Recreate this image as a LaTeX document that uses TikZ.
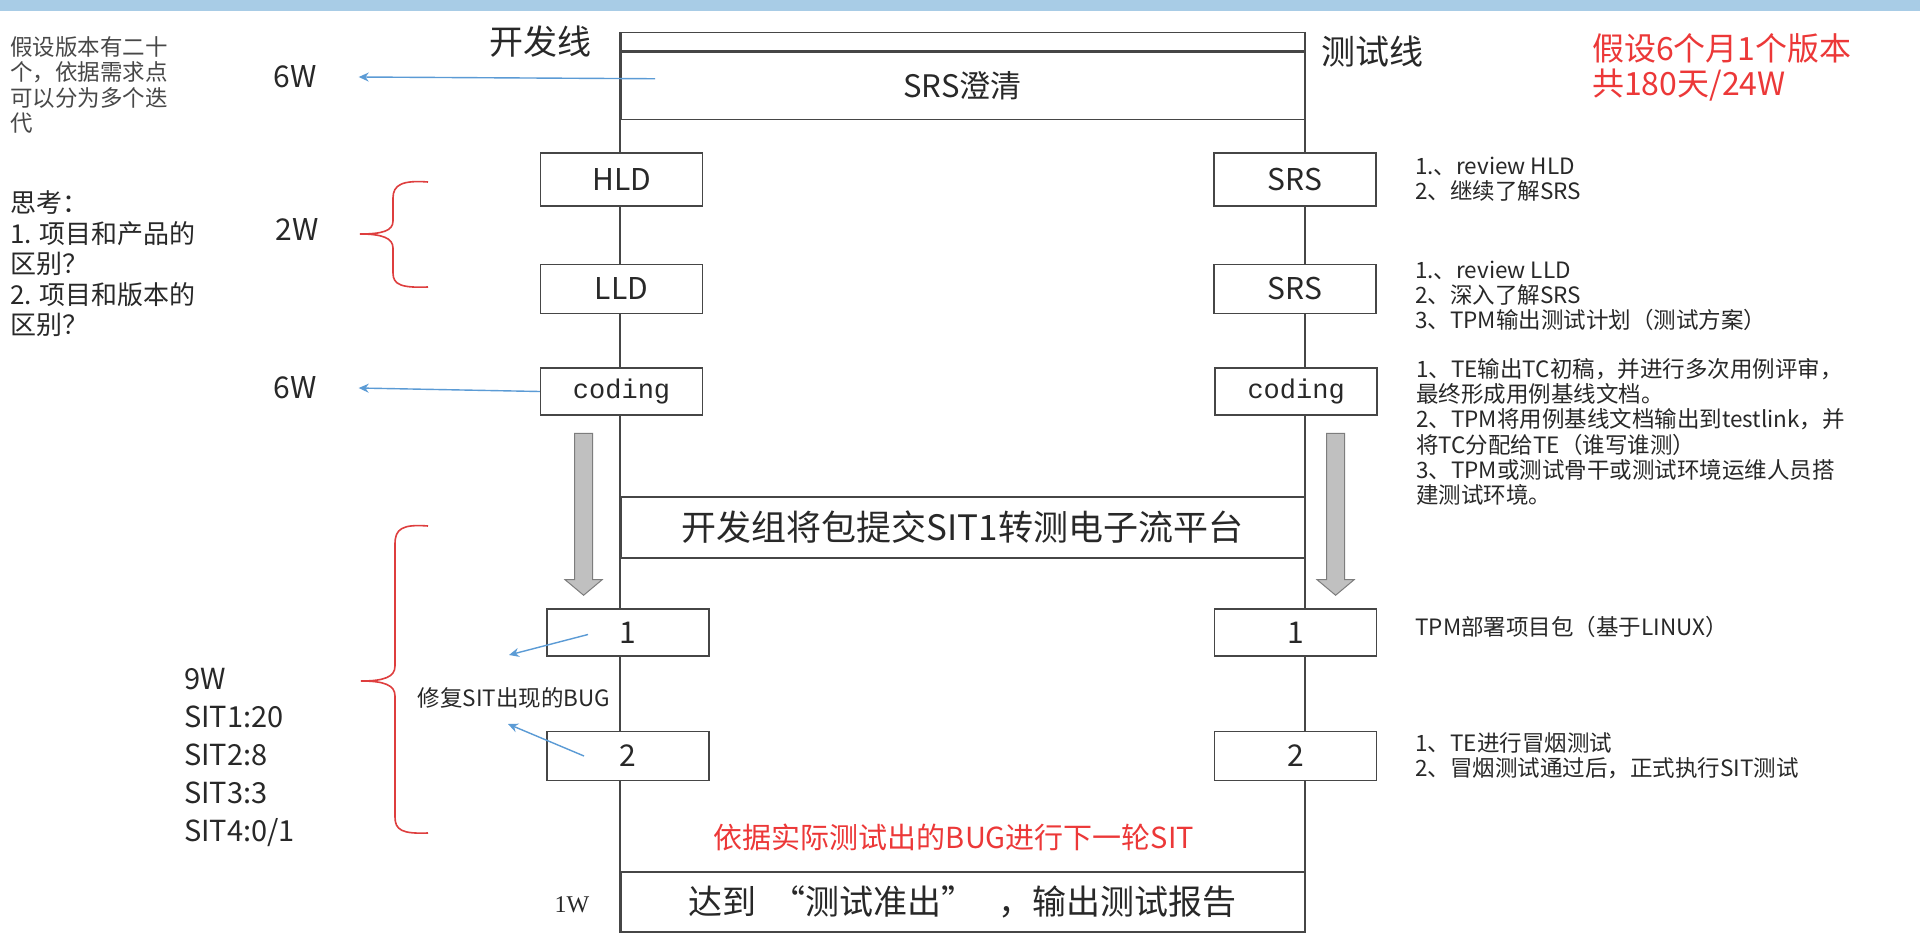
\documentclass[tikz,border=0pt]{standalone}
\usepackage{fontspec}
\setmainfont{Noto Sans CJK SC}
\newfontfamily\monoFont{Liberation Mono}
\newfontfamily\serifFont{Liberation Serif}
\usepackage{tikz}
\usetikzlibrary{shapes.arrows, positioning, calc, arrows.meta}
\definecolor{colorBar}{RGB}{168, 204, 230}
\definecolor{colorLine}{RGB}{70, 70, 70}
\definecolor{colorText}{RGB}{40, 40, 40}
\definecolor{colorNote}{RGB}{91, 155, 213}
\definecolor{colorBrace}{RGB}{222, 62, 62}
\definecolor{colorRed}{RGB}{236, 56, 56}
\definecolor{colorFlowFill}{RGB}{192, 192, 192}
\definecolor{colorFlowDraw}{RGB}{125, 125, 125}
\tikzstyle{band} = [rectangle, draw=colorLine, line width=1.5pt, fill=white, minimum width=683.6pt, inner sep=0pt, text=colorText, font=\fontsize{31}{36}\selectfont]
\tikzstyle{stage} = [rectangle, draw=colorLine, line width=1.5pt, fill=white, minimum width=162pt, minimum height=49pt, inner sep=0pt, text=colorText, font=\fontsize{30}{36}\selectfont]
\tikzstyle{note} = [align=left, inner sep=0pt, text=colorText, font=\fontsize{22.5}{25.2}\selectfont]
\tikzstyle{week} = [inner sep=0pt, text=colorText, font=\fontsize{30}{36}\selectfont]
\tikzstyle{flow} = [single arrow, shape border rotate=270, draw=colorFlowDraw, fill=colorFlowFill, line width=1pt, minimum height=162pt, minimum width=36pt, single arrow head extend=9.5pt, single arrow tip angle=100, inner xsep=8.5pt, inner ysep=0pt]
\tikzstyle{noteArrow} = [-{Stealth[length=10pt, width=9pt]}, draw=colorNote, line width=1.4pt]
\tikzstyle{braceLine} = [draw=colorBrace, line width=1.6pt]
\tikzstyle{frameLine} = [draw=colorLine, line width=1.5pt]

\begin{document}
\begin{tikzpicture}[x=1pt, y=-1pt]

		\useasboundingbox (0,0) rectangle (1920,942);
		\fill[white] (0,0) rectangle (1920,942);
		\node (topBar)[fill=colorBar, minimum width=1920pt, minimum height=11pt, inner sep=0pt, anchor=north west] at (0,0) {};

		% the two lines
		\node (devLine)[inner sep=0pt, text=colorText, font=\fontsize{34}{40}\selectfont] at (540,42) {开发线};
		\node (testLine)[inner sep=0pt, text=colorText, font=\fontsize{34}{40}\selectfont] at (1372,52) {测试线};

		\node (headStrip)[band, minimum height=18pt, anchor=north west] at (620,32) {};
		\node (srsClarify)[band, minimum height=67pt, anchor=north west] at (headStrip.south west) {SRS澄清};
		\node (devSubmit)[band, minimum height=61pt, anchor=north west, font=\fontsize{35}{40}\selectfont] at (620,496) {开发组将包提交SIT1转测电子流平台};
		\node (report)[band, minimum height=60pt, anchor=north west, font=\fontsize{34}{40}\selectfont] at (620,871) {达到\ \ “测试准出”\ \ \ ，输出测试报告};

		\draw[frameLine] (headStrip.north west) -- (report.south west);
		\draw[frameLine] (headStrip.north east) -- (report.south east);

		% dev side
		\node (hld)[stage, minimum height=53pt] at (621.6,179.5) {HLD};
		\node (lld)[stage, below=57pt of hld] {LLD};
		\node (codingDev)[stage, minimum height=47pt, below=53pt of lld, font=\monoFont\fontsize{27}{32}\selectfont] {coding};
		\node (sitOneDev)[stage, minimum height=47pt] at (628,632.5) {1};
		\node (sitTwoDev)[stage, below=74pt of sitOneDev] {2};

		% test side
		\node (srsA)[stage, minimum height=53pt, right=510pt of hld] {SRS};
		\node (srsB)[stage, right=510pt of lld] {SRS};
		\node (codingTest)[stage, minimum height=47pt, right=511pt of codingDev, font=\monoFont\fontsize{27}{32}\selectfont] {coding};
		\node (sitOneTest)[stage, minimum height=47pt, right=504pt of sitOneDev] {1};
		\node (sitTwoTest)[stage, right=504pt of sitTwoDev] {2};

		\node (devFlow)[flow, anchor=tail] at ([xshift=-38pt, yshift=-17pt]codingDev.south) {};
		\node (testFlow)[flow, anchor=tail] at ([xshift=39.5pt, yshift=-17pt]codingTest.south) {};

		\node (nextRound)[inner sep=0pt, text=colorRed, font=\fontsize{29}{34}\selectfont] at (954,837) {依据实际测试出的BUG进行下一轮SIT};

		% notes on the right
		\node (noteHld)[note, right=38pt of srsA] {1.、review HLD\\2、继续了解SRS};
		\node (noteLld)[note, right=38pt of srsB, yshift=-7pt] {1.、review LLD\\2、深入了解SRS\\3、TPM输出测试计划（测试方案）};
		\node (noteCoding)[note, anchor=north west] at ([xshift=38pt, yshift=9pt]codingTest.north east) {1、TE输出TC初稿，并进行多次用例评审，\\最终形成用例基线文档。\\2、TPM将用例基线文档输出到testlink，并\\将TC分配给TE（谁写谁测）\\3、TPM或测试骨干或测试环境运维人员搭\\建测试环境。};
		\node (noteSitOne)[note, right=38pt of sitOneTest, yshift=6pt] {TPM部署项目包（基于LINUX）};
		\node (noteSitTwo)[note, right=38pt of sitTwoTest] {1、TE进行冒烟测试\\2、冒烟测试通过后，正式执行SIT测试};

		\node (planNote)[align=left, inner sep=0pt, text=colorRed, font=\fontsize{32}{35}\selectfont, anchor=west] at (1592,67.5) {假设6个月1个版本\\共180天/24W};

		% notes on the left
		\node (versionNote)[note, anchor=west, text=colorText!85, font=\fontsize{22.5}{25.5}\selectfont] at (10,85) {假设版本有二十\\个，依据需求点\\可以分为多个迭\\代};
		\node (thinkNote)[note, anchor=west, font=\fontsize{26}{30.5}\selectfont] at (10,264) {思考：\\1. 项目和产品的\\区别？\\2. 项目和版本的\\区别？};

		\node (sixWTop)[week] at (295,77) {6W};
		\node (twoW)[week] at (297,230) {2W};
		\node (sixWBot)[week] at (295,388) {6W};
		\node (sitWeeks)[note, anchor=west, font=\fontsize{29}{37.8}\selectfont] at (184,757.5) {9W\\SIT1:20\\SIT2:8\\SIT3:3\\SIT4:0/1};
		\node (fixBug)[note] at (514,698) {修复SIT出现的BUG};
		\node (oneW)[inner sep=0pt, text=colorText, font=\serifFont\fontsize{24}{28}\selectfont] at (572,905) {1W};

		% lines and arrows
		\draw[noteArrow] ([shift={(35,-7)}]srsClarify.west) -- ([xshift=42pt]sixWTop.east);
		\draw[noteArrow] (codingDev.west) -- ([xshift=42pt]sixWBot.east);
		\draw[noteArrow] ([shift={(-40,2)}]sitOneDev.center) -- ([shift={(-5,-43)}]fixBug.center);
		\draw[noteArrow] ([shift={(-44,0)}]sitTwoDev.center) -- ([shift={(-6,26)}]fixBug.center);

		% braces
		\draw[braceLine] (428,182) .. controls (402,180) and (393,185) .. (393,198) -- (393,221) .. controls (393,231) and (382,234) .. (360,234) .. controls (382,234) and (393,238) .. (393,248) -- (393,273) .. controls (393,285) and (402,288) .. (428,287);
		\draw[braceLine] (428,526) .. controls (402,524) and (395,529) .. (395,544) -- (395,666) .. controls (395,677) and (384,681) .. (361,681) .. controls (384,681) and (395,685) .. (395,696) -- (395,817) .. controls (395,830) and (402,834) .. (428,833);

\end{tikzpicture}
\end{document}
